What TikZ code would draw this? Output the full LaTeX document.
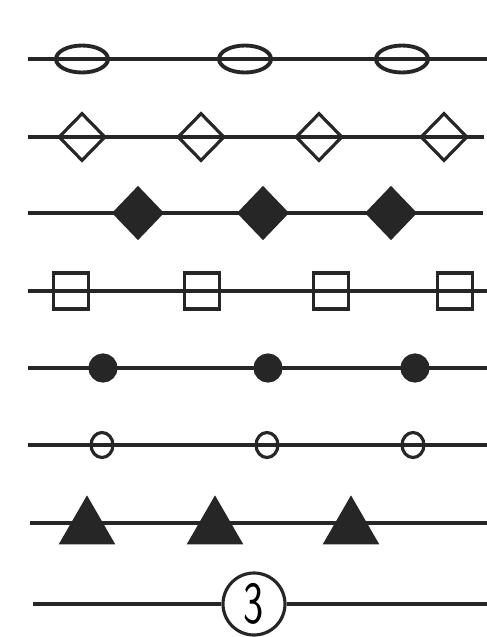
\documentclass[tikz,border=0pt]{standalone}
\usepackage{graphicx}
\usetikzlibrary{shapes.geometric}

\begin{document}
\begin{tikzpicture}[
    x=0.02cm, y=-0.02cm,
    rail/.style={draw=black!85, line width=2pt},
    marker/.style={draw=black!85, line width=1.8pt, inner sep=0pt},
    oval/.style={marker, ellipse, line width=2.2pt, minimum width=1.04cm, minimum height=0.54cm},
    opendia/.style={marker, diamond, minimum width=0.94cm, minimum height=0.96cm},
    soliddia/.style={marker, diamond, fill=black!85, minimum width=0.98cm, minimum height=1.02cm},
    sqbox/.style={marker, rectangle, minimum width=0.7cm, minimum height=0.72cm},
    dot/.style={marker, circle, fill=black!85, minimum size=0.52cm},
    ring/.style={marker, ellipse, minimum width=0.44cm, minimum height=0.5cm},
    tri/.style={marker, regular polygon, regular polygon sides=3, fill=black!85, minimum size=1.18cm},
    numcircle/.style={marker, circle, fill=white, minimum size=1.24cm, font=\sffamily\fontsize{34}{36}\selectfont}
]
\useasboundingbox (0,0) rectangle (487,637);

% ============ ROW 1: OVALS ============
\coordinate (r1l) at (28,59);
\coordinate (r1r) at (487,59);
\draw[rail, line width=2.6pt] (r1l) -- (r1r);
\node[oval] (oval1) at (82,59) {};
\node[oval] (oval2) at (245,59) {};
\node[oval] (oval3) at (402,59) {};

% ============ ROW 2: OPEN DIAMONDS ============
\coordinate (r2l) at (28,137);
\coordinate (r2r) at (484,137);
\draw[rail] (r2l) -- (r2r);
\node[opendia] (odia1) at (82,137) {};
\node[opendia] (odia2) at (201,137) {};
\node[opendia] (odia3) at (319,137) {};
\node[opendia] (odia4) at (444,137) {};

% ============ ROW 3: SOLID DIAMONDS ============
\coordinate (r3l) at (28,213);
\coordinate (r3r) at (483,213);
\draw[rail] (r3l) -- (r3r);
\node[soliddia] (sdia1) at (138,213) {};
\node[soliddia] (sdia2) at (263,213) {};
\node[soliddia] (sdia3) at (391,213) {};

% ============ ROW 4: SQUARES ============
\coordinate (r4l) at (28,291);
\coordinate (r4r) at (487,291);
\draw[rail] (r4l) -- (r4r);
\node[sqbox] (sq1) at (71,291) {};
\node[sqbox] (sq2) at (202,291) {};
\node[sqbox] (sq3) at (331,291) {};
\node[sqbox] (sq4) at (455,291) {};

% ============ ROW 5: SOLID DOTS ============
\coordinate (r5l) at (28,368);
\coordinate (r5r) at (487,368);
\draw[rail] (r5l) -- (r5r);
\node[dot] (dot1) at (103,368) {};
\node[dot] (dot2) at (268,368) {};
\node[dot] (dot3) at (415,368) {};

% ============ ROW 6: RINGS ============
\coordinate (r6l) at (28,445);
\coordinate (r6r) at (487,445);
\draw[rail] (r6l) -- (r6r);
\node[ring] (ring1) at (102,445) {};
\node[ring] (ring2) at (267,445) {};
\node[ring] (ring3) at (413,445) {};

% ============ ROW 7: TRIANGLES ============
\coordinate (r7l) at (30,523);
\coordinate (r7r) at (487,523);
\draw[rail] (r7l) -- (r7r);
\node[tri] (tri1) at (87,528) {};
\node[tri] (tri2) at (215,528) {};
\node[tri] (tri3) at (351,528) {};

% ============ ROW 8: NUMBERED CIRCLE ============
\coordinate (r8l) at (33,604);
\coordinate (r8r) at (487,604);
\node[numcircle] (num3) at (254,604) {\scalebox{0.72}[1]{3}};
\draw[rail] (r8l) -- (num3) -- (r8r);

\end{tikzpicture}
\end{document}
